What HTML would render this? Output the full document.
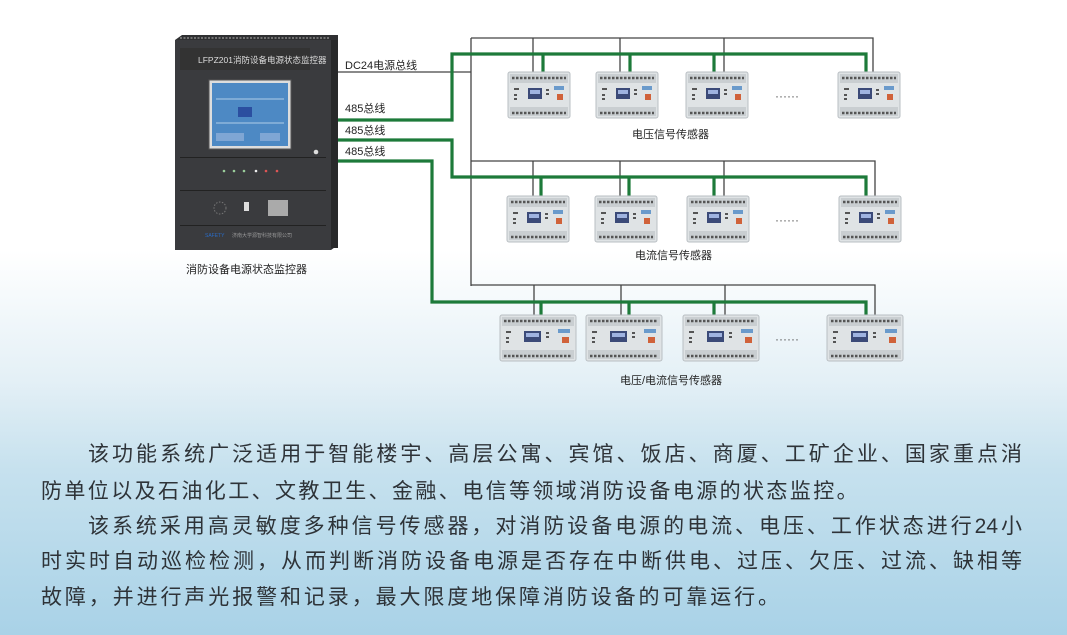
<!DOCTYPE html>
<html><head><meta charset="utf-8"><style>
html,body{margin:0;padding:0}
body{width:1067px;height:635px;overflow:hidden;position:relative;background:linear-gradient(to bottom,#ffffff 0px,#ffffff 250px,#e4f0f6 380px,#c6e1ee 470px,#a9d2e7 635px);font-family:"Liberation Sans","Noto Sans CJK SC",sans-serif}
.t{position:absolute;font-size:21px;color:#2e3338;white-space:nowrap;font-family:"Liberation Sans","Noto Sans CJK SC",sans-serif;line-height:24px}
.j{text-align:justify;text-align-last:justify;white-space:normal}
svg{position:absolute;left:0;top:0}
</style></head><body>
<svg width="1067" height="400" viewBox="0 0 1067 400">
<defs>
<g id="sen">
<rect x="0" y="0" width="62" height="46" rx="2" fill="#dfe3e5" stroke="#b9bfc3"/>
<rect x="2" y="2" width="58" height="9" fill="#c9ced1"/>
<line x1="4" y1="6" x2="58" y2="6" stroke="#555" stroke-width="2.5" stroke-dasharray="2.5 1.5"/>
<rect x="2" y="35" width="58" height="9" fill="#c9ced1"/>
<line x1="4" y1="41" x2="58" y2="41" stroke="#555" stroke-width="2.5" stroke-dasharray="2.5 1.5"/>
<rect x="20" y="16" width="14" height="11" fill="#3b4a78"/>
<rect x="22" y="18" width="10" height="4" fill="#9fb3e0"/>
<rect x="49" y="22" width="6" height="6" fill="#d0623a"/>
<rect x="6" y="16" width="5" height="2" fill="#555"/><rect x="6" y="22" width="3" height="2" fill="#555"/><rect x="6" y="26" width="3" height="2" fill="#555"/>
<rect x="38" y="17" width="3" height="2" fill="#555"/><rect x="38" y="21" width="3" height="2" fill="#555"/>
<rect x="46" y="14" width="10" height="4" fill="#6a9acb"/>
</g>
<g id="senb">
<rect x="0" y="0" width="76" height="46" rx="2" fill="#dfe3e5" stroke="#b9bfc3"/>
<rect x="2" y="2" width="72" height="9" fill="#c9ced1"/>
<line x1="4" y1="6" x2="72" y2="6" stroke="#555" stroke-width="2.5" stroke-dasharray="2.5 1.5"/>
<rect x="2" y="35" width="72" height="9" fill="#c9ced1"/>
<line x1="4" y1="41" x2="72" y2="41" stroke="#555" stroke-width="2.5" stroke-dasharray="2.5 1.5"/>
<rect x="24" y="16" width="17" height="11" fill="#3b4a78"/>
<rect x="26" y="18" width="13" height="4" fill="#9fb3e0"/>
<rect x="62" y="22" width="7" height="6" fill="#d0623a"/>
<rect x="6" y="16" width="5" height="2" fill="#555"/><rect x="6" y="22" width="3" height="2" fill="#555"/><rect x="6" y="26" width="3" height="2" fill="#555"/>
<rect x="46" y="17" width="3" height="2" fill="#555"/><rect x="46" y="21" width="3" height="2" fill="#555"/>
<rect x="58" y="14" width="12" height="4" fill="#6a9acb"/>
</g>
</defs>
<g stroke="#444" stroke-width="1.3" fill="none">
<polyline points="335,72 471,72"/>
<line x1="471" y1="38" x2="471" y2="286"/>
<polyline points="471,38 873,38 873,72"/>
<line x1="533" y1="38" x2="533" y2="72"/><line x1="620" y1="38" x2="620" y2="72"/><line x1="724" y1="38" x2="724" y2="72"/>
<polyline points="471,161 875,161 875,196"/>
<line x1="533" y1="161" x2="533" y2="196"/><line x1="620" y1="161" x2="620" y2="196"/><line x1="724" y1="161" x2="724" y2="196"/>
<polyline points="471,285 875,285 875,315"/>
<line x1="534" y1="285" x2="534" y2="315"/><line x1="621" y1="285" x2="621" y2="315"/><line x1="725" y1="285" x2="725" y2="315"/>
</g>
<g stroke="#1d7a3a" stroke-width="3.2" fill="none">
<polyline points="335,120 452,120 452,54 866,54 866,72"/>
<line x1="543" y1="54" x2="543" y2="72"/><line x1="630" y1="54" x2="630" y2="72"/><line x1="714" y1="54" x2="714" y2="72"/>
<polyline points="335,140 452,140 452,177 866,177 866,196"/>
<line x1="541" y1="177" x2="541" y2="196"/><line x1="629" y1="177" x2="629" y2="196"/><line x1="714" y1="177" x2="714" y2="196"/>
<polyline points="335,161 432,161 432,302 866,302 866,315"/>
<line x1="541" y1="302" x2="541" y2="315"/><line x1="629" y1="302" x2="629" y2="315"/><line x1="714" y1="302" x2="714" y2="315"/>
</g>
<use href="#sen" x="508" y="72"/><use href="#sen" x="596" y="72"/><use href="#sen" x="686" y="72"/><use href="#sen" x="838" y="72"/>
<use href="#sen" x="507" y="196"/><use href="#sen" x="595" y="196"/><use href="#sen" x="687" y="196"/><use href="#sen" x="839" y="196"/>
<use href="#senb" x="500" y="315"/><use href="#senb" x="586" y="315"/><use href="#senb" x="683" y="315"/><use href="#senb" x="827" y="315"/>
<g fill="#555" font-size="12">
<text x="775" y="100">······</text><text x="775" y="224">······</text><text x="775" y="343">······</text>
</g>
<g font-size="11" fill="#222" font-family="Liberation Sans,Noto Sans CJK SC,sans-serif">
<text x="345" y="69">DC24电源总线</text>
<text x="345" y="112">485总线</text>
<text x="345" y="134">485总线</text>
<text x="345" y="155">485总线</text>
<text x="632" y="138">电压信号传感器</text>
<text x="635" y="259">电流信号传感器</text>
<text x="620" y="384">电压/电流信号传感器</text>
<text x="186" y="273">消防设备电源状态监控器</text>
</g>
<polygon points="175,40 182,35 338,35 338,245 331,250 175,250" fill="#2f3032"/>
<rect x="175" y="40" width="156" height="210" fill="#3a3b3e"/>
<rect x="331" y="40" width="7" height="208" fill="#28292a"/>
<line x1="180" y1="38" x2="330" y2="38" stroke="#888" stroke-width="1.5" stroke-dasharray="2 1.5"/>
<rect x="180" y="48" width="130" height="22" fill="#333"/>
<text x="198" y="63" font-size="8.5" fill="#ddd">LFPZ201消防设备电源状态监控器</text>
<rect x="209" y="80" width="82" height="69" fill="#ddd" stroke="#555"/>
<rect x="212" y="83" width="76" height="63" fill="#4d89c4"/>
<rect x="238" y="107" width="14" height="10" fill="#2b4fa0"/>
<g stroke="#cfe4f6" stroke-width="0.8"><line x1="216" y1="123" x2="284" y2="123"/><line x1="216" y1="99" x2="284" y2="99"/></g>
<rect x="216" y="133" width="28" height="8" fill="#7fa6d4"/><rect x="260" y="133" width="20" height="8" fill="#7fa6d4"/>
<rect x="180" y="157" width="146" height="1" fill="#222"/>
<g fill="#9c9"><circle cx="224" cy="171" r="1.3"/><circle cx="234" cy="171" r="1.3"/><circle cx="244" cy="171" r="1.3"/><circle cx="256" cy="171" r="1.3" fill="#eee"/></g>
<g fill="#d55"><circle cx="266" cy="171" r="1.3"/><circle cx="277" cy="171" r="1.3"/></g>
<rect x="180" y="190" width="146" height="1" fill="#222"/>
<circle cx="220" cy="208" r="6" fill="none" stroke="#777" stroke-dasharray="1.5 1.5"/>
<rect x="244" y="202" width="5" height="9" fill="#ddd"/>
<rect x="268" y="200" width="20" height="16" fill="#aaa"/>
<rect x="180" y="225" width="146" height="1" fill="#222"/>
<text x="205" y="237" font-size="5" fill="#2a6bc4">SAFETY</text>
<text x="232" y="237" font-size="5" fill="#999">济南大学源智科技有限公司</text>
<circle cx="316" cy="152" r="2.3" fill="#ddd"/>
</svg>
<div class="t j" style="left:88px;top:443px;width:934px">该功能系统广泛适用于智能楼宇、高层公寓、宾馆、饭店、商厦、工矿企业、国家重点消</div>
<div class="t" style="left:41px;top:480px;letter-spacing:2.4px">防单位以及石油化工、文教卫生、金融、电信等领域消防设备电源的状态监控。</div>
<div class="t j" style="left:88px;top:515px;width:934px">该系统采用高灵敏度多种信号传感器，对消防设备电源的电流、电压、工作状态进行24小</div>
<div class="t j" style="left:41px;top:550px;width:981px">时实时自动巡检检测，从而判断消防设备电源是否存在中断供电、过压、欠压、过流、缺相等</div>
<div class="t" style="left:41px;top:586px;letter-spacing:2.9px">故障，并进行声光报警和记录，最大限度地保障消防设备的可靠运行。</div>
</body></html>
